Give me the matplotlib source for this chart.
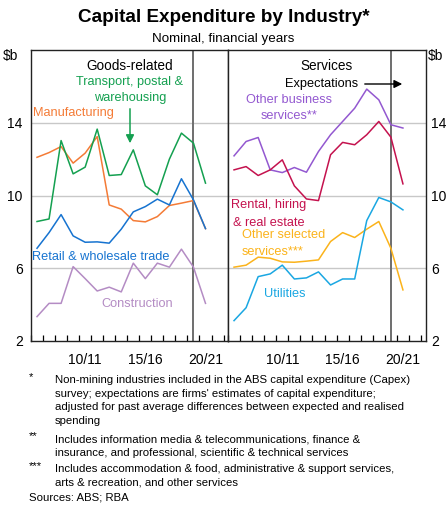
import matplotlib.pyplot as plt
import numpy as np

plt.rcParams['font.family'] = ['Liberation Sans', 'DejaVu Sans']

# financial years 2006/07 .. 2020/21 (last two are expectations)
years = np.arange(15)
tick_labels = ['10/11', '15/16', '20/21']
tick_idx = [4, 9, 14]

manufacturing = [12.1, 12.36, 12.69, 11.78, 12.33, 13.24, 9.48, 9.25, 8.62, 8.55, 8.84, 9.45, 9.58, 9.72, 8.18]
transport = [8.57, 8.71, 13.02, 11.19, 11.56, 13.65, 11.1, 11.15, 12.51, 10.53, 10.04, 12.0, 13.43, 12.88, 10.68]
retail = [7.1, 7.96, 8.95, 7.78, 7.43, 7.45, 7.38, 8.15, 9.1, 9.39, 9.8, 9.48, 10.92, 9.76, 8.18]
construction = [3.34, 4.07, 4.07, 6.09, 5.43, 4.75, 4.96, 4.7, 6.28, 5.43, 6.28, 6.06, 7.05, 6.06, 4.07]

other_business = [12.18, 12.97, 13.19, 11.41, 11.26, 11.54, 11.28, 12.42, 13.34, 14.07, 14.8, 15.85, 15.26, 13.89, 13.71]
rental = [11.41, 11.59, 11.1, 11.41, 11.96, 10.53, 9.81, 9.72, 12.24, 12.92, 12.79, 13.34, 14.07, 13.21, 10.64]
other_selected = [6.06, 6.17, 6.61, 6.55, 6.35, 6.33, 6.39, 6.46, 7.47, 7.96, 7.69, 8.15, 8.57, 7.1, 4.81]
utilities = [3.12, 3.83, 5.54, 5.69, 6.17, 5.41, 5.47, 5.8, 5.08, 5.41, 5.41, 8.62, 9.89, 9.65, 9.21]

C_MAN = '#f47b36'
C_TRA = '#14a050'
C_RET = '#1673d0'
C_CON = '#b48cc4'
C_OBS = '#9358d0'
C_REN = '#c4124e'
C_OSS = '#fbb31b'
C_UTI = '#1aa7e2'

W, H = 447, 507


def fx(x):
    return x / W


def fy(y):
    return 1 - y / H


fig = plt.figure(figsize=(W / 100, H / 100), dpi=100)
ax1 = fig.add_axes([fx(31), fy(341), fx(228 - 31), fy(50) - fy(341)])
ax2 = fig.add_axes([fx(228), fy(341), fx(425.5 - 228), fy(50) - fy(341)])

lw = 1.1
ax1.plot(years, manufacturing, color=C_MAN, lw=lw)
ax1.plot(years, transport, color=C_TRA, lw=lw)
ax1.plot(years, retail, color=C_RET, lw=lw)
ax1.plot(years, construction, color=C_CON, lw=lw)

ax2.plot(years, other_business, color=C_OBS, lw=lw)
ax2.plot(years, rental, color=C_REN, lw=lw)
ax2.plot(years, other_selected, color=C_OSS, lw=lw)
ax2.plot(years, utilities, color=C_UTI, lw=lw)

for ax in (ax1, ax2):
    ax.set_xlim(-0.42, 15.87)
    ax.set_ylim(2, 18)
    for v in (6, 10, 14):
        ax.axhline(v, color='#c8c8c8', lw=1.0, zorder=0)
    ax.axvline(13, color='#6e6e6e', lw=1.4, zorder=1)
    ax.set_xticks(tick_idx)
    ax.set_xticklabels(tick_labels, fontsize=10)
    ax.set_xticks(np.arange(-0.5, 15.6, 1), minor=True)
    ax.tick_params(axis='x', which='major', length=0, pad=9)
    ax.tick_params(axis='x', which='minor', direction='in', length=4.5, width=0.9)
    ax.set_yticks([2, 6, 10, 14])
    for s in ax.spines.values():
        s.set_linewidth(1.0)
        s.set_color('#222222')

ax1.tick_params(axis='y', length=0, labelsize=10, pad=6)
ax2.yaxis.tick_right()
ax2.tick_params(axis='y', length=0, labelsize=10, pad=4)
ax2.tick_params(axis='y', which='both', left=False)

fig.text(fx(3), fy(56), '$b', fontsize=10, va='center', ha='left')
fig.text(fx(428), fy(56), '$b', fontsize=10, va='center', ha='left')

# titles
fig.text(0.5, fy(18), 'Capital Expenditure by Industry*', fontsize=13.6, fontweight='bold',
         ha='center', va='center')
fig.text(0.5, fy(39), 'Nominal, financial years', fontsize=9.6, ha='center', va='center')

# panel annotations
fs = 9.2
fig.text(fx(130), fy(66), 'Goods-related', fontsize=9.8, ha='center', va='center')
fig.text(fx(130), fy(82), 'Transport, postal &', fontsize=fs, color=C_TRA, ha='center', va='center')
fig.text(fx(130), fy(98), 'warehousing', fontsize=fs, color=C_TRA, ha='center', va='center')
ax1.annotate('', xy=(fx(130), fy(146)), xytext=(fx(130), fy(106)),
             xycoords='figure fraction', textcoords='figure fraction',
             arrowprops=dict(arrowstyle='-|>', color=C_TRA, lw=1.1, mutation_scale=12))
fig.text(fx(33), fy(113), 'Manufacturing', fontsize=fs, color=C_MAN, ha='left', va='center')
fig.text(fx(32), fy(257), 'Retail & wholesale trade', fontsize=fs, color=C_RET, ha='left', va='center')
fig.text(fx(137), fy(304), 'Construction', fontsize=fs, color=C_CON, ha='center', va='center')

fig.text(fx(327), fy(66), 'Services', fontsize=9.8, ha='center', va='center')
fig.text(fx(358), fy(84), 'Expectations', fontsize=fs, ha='right', va='center')
ax2.annotate('', xy=(fx(405), fy(84)), xytext=(fx(362), fy(84)),
             xycoords='figure fraction', textcoords='figure fraction',
             arrowprops=dict(arrowstyle='-|>', color='black', lw=1.0, mutation_scale=12))
fig.text(fx(289), fy(100), 'Other business', fontsize=fs, color=C_OBS, ha='center', va='center')
fig.text(fx(289), fy(116), 'services**', fontsize=fs, color=C_OBS, ha='center', va='center')
fig.text(fx(231), fy(205), 'Rental, hiring', fontsize=fs, color=C_REN, ha='left', va='center')
fig.text(fx(233), fy(223), '& real estate', fontsize=fs, color=C_REN, ha='left', va='center')
fig.text(fx(242), fy(235), 'Other selected', fontsize=fs, color=C_OSS, ha='left', va='center')
fig.text(fx(242), fy(252), 'services***', fontsize=fs, color=C_OSS, ha='left', va='center')
fig.text(fx(285), fy(294), 'Utilities', fontsize=fs, color=C_UTI, ha='center', va='center')

# footnotes
nfs = 8.2
notes = [
    ('*', ['Non-mining industries included in the ABS capital expenditure (Capex)',
           "survey; expectations are firms' estimates of capital expenditure;",
           'adjusted for past average differences between expected and realised',
           'spending'], 380),
    ('**', ['Includes information media & telecommunications, finance &',
            'insurance, and professional, scientific & technical services'], 439),
    ('***', ['Includes accommodation & food, administrative & support services,',
             'arts & recreation, and other services'], 469),
]
for mark, lines, y0 in notes:
    fig.text(fx(29), fy(y0 - 3), mark, fontsize=nfs, ha='left', va='center')
    for k, line in enumerate(lines):
        fig.text(fx(55), fy(y0 + 13.6 * k), line, fontsize=nfs, ha='left', va='center')
fig.text(fx(29), fy(497), 'Sources: ABS; RBA', fontsize=nfs, ha='left', va='center')

fig.savefig('out.png', dpi=100)
